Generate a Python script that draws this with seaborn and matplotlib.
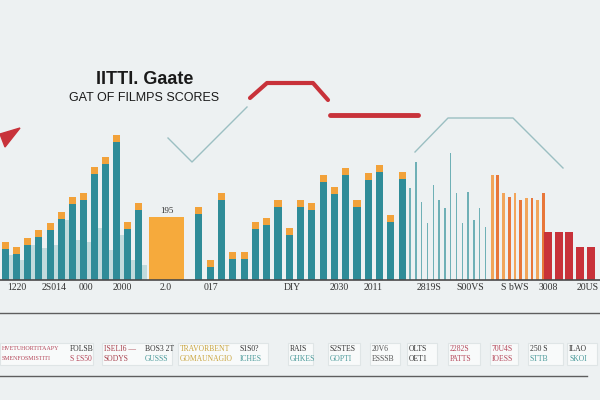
import matplotlib
matplotlib.use("Agg")
import matplotlib.pyplot as plt
import matplotlib.patches as mpatches
import numpy as np
import seaborn as sns

BG = "#edf1f2"
TEAL = "#2f8c98"
CAP = "#f2a23a"
BIG = "#f6aa3c"
RED = "#c8323a"
GHOST = "#bcdfe2"
THIN = "#6fb0b6"

# bar values (score units)
teal_left = [38, 33, 42, 50, 57, 68, 83, 87, 113, 123, 145, 58, 77]
ghost_left = [25, 20, 35, 32, 35, 60, 40, 38, 52, 30, 45, 20, 15]
big_value = 63
big_label = "195"
teal_right = [73, 20, 87, 28, 28, 58, 62, 80, 52, 80, 77, 105, 93, 112, 80, 107, 115, 65, 108]
thin_vals = [92, 118, 78, 57, 95, 80, 72, 127, 87, 57, 88, 60, 72, 53]
orange_vals = [105, 105, 87, 83, 87, 80, 82, 82, 80, 87]
orange_shade = ["a", "b", "a", "b", "a", "b", "a", "b", "a", "b"]
red_vals = [48, 48, 48, 33, 33]

tick_labels = ["1220", "2S014", "000", "2000", "2.0", "017", "DIY", "2030",
               "2011", "2819S", "S00VS", "S bWS", "3008", "20US"]
title = "IITTI. Gaate"
subtitle = "GAT OF FILMPS SCORES"

# legend-like boxes under the chart: (left text lines, colour), (right text lines, colour)
box_texts = [
    (["HVETUHORTITAAPY", "SMENFOSMISTITI"], "#b5475a", ["FOLSB", "S £S50"], "#b5475a"),
    (["ISELI6 —", "SODYS"], "#a8404c", ["BOS3 2T", "GUSSS"], "#4a9a9a"),
    (["TRAVORBENT", "GOMAUNAGIO"], "#c9a43c", ["S1S0?", "ICHES"], "#4a9a9a"),
    (["RAIS", "GHKES"], "#4a9a9a", [], None),
    (["S2STES", "GOPTI"], "#4a9a9a", [], None),
    (["20V6", "ESSSB"], "#555555", [], None),
    (["OLTS", "OET1"], "#333333", [], None),
    (["2282S", "PATTS"], "#b5475a", [], None),
    (["70U4S", "IOESS"], "#b5475a", [], None),
    (["250 S", "STTB"], "#4a9a9a", [], None),
    (["ILAO", "SKOI"], "#4a9a9a", [], None),
]

fig = plt.figure(figsize=(6, 4), dpi=100)
fig.patch.set_facecolor(BG)

ax = fig.add_axes([0, 0.3, 1, 0.5])
ax.set_facecolor("none")

cap_h = 7
left_x = np.arange(len(teal_left))
right_x = np.linspace(17.4, 35.7, len(teal_right))

# pale background bars
sns.barplot(x=left_x + 0.45, y=ghost_left, native_scale=True, width=0.6,
            color=GHOST, errorbar=None, ax=ax)

# teal bars with orange caps
for xs, vals in [(left_x, teal_left), (right_x, teal_right)]:
    vals = np.array(vals)
    sns.barplot(x=xs, y=vals, native_scale=True, width=0.63, color=CAP,
                saturation=1, errorbar=None, ax=ax)
    sns.barplot(x=xs, y=vals - cap_h, native_scale=True, width=0.63, color=TEAL,
                saturation=1, errorbar=None, ax=ax)

# the wide highlighted bar
sns.barplot(x=[14.5], y=[big_value], native_scale=True, width=3.2, color=BIG,
            saturation=1, errorbar=None, ax=ax)
ax.text(14.5, big_value + 2, big_label, ha="center", va="bottom", fontsize=6.5,
        family="Liberation Serif", color="#333333")

# thin lines
sns.barplot(x=np.linspace(36.4, 43.2, len(thin_vals)), y=thin_vals, native_scale=True,
            width=0.25, color=THIN, saturation=1, errorbar=None, ax=ax)

# orange strip
sns.barplot(x=np.linspace(43.8, 48.4, len(orange_vals)), y=orange_vals, hue=orange_shade,
            palette={"a": "#f2a55a", "b": "#e8773a"}, native_scale=True, width=0.5,
            dodge=False, saturation=1, errorbar=None, legend=False, ax=ax)

# red bars
sns.barplot(x=np.linspace(48.8, 52.7, len(red_vals)), y=red_vals, native_scale=True,
            width=0.74, color=RED, saturation=1, errorbar=None, ax=ax)

ax.axhline(0, color="#4a4a4a", lw=1.2, clip_on=False)
ax.set_xlim(-0.5, 53.5)
ax.set_ylim(0, 200)
ax.axis("off")

label_slots = [1.0, 4.4, 7.2, 10.5, 14.4, 18.5, 25.8, 30, 33.1, 38.1, 41.8, 45.8, 48.8, 52.4]
for pos, lab in zip(label_slots, tick_labels):
    ax.text(pos, -8, lab, ha="center", va="center", fontsize=7,
            family="Liberation Serif", color="#333333", clip_on=False)

# overlay in pixel space for decorations
deco = fig.add_axes([0, 0, 1, 1])
deco.set_xlim(0, 600)
deco.set_ylim(400, 0)
deco.axis("off")
deco.set_facecolor("none")

deco.text(145, 80, title, ha="center", va="center", fontsize=13, fontweight="bold",
          family="Liberation Sans", color="#1a1a1a")
deco.text(144, 98, subtitle, ha="center", va="center", fontsize=9,
          family="Liberation Sans", color="#1a1a1a")

deco.plot([250, 267, 313, 328], [98, 83, 83, 100], color=RED, lw=3, solid_capstyle="round")
deco.plot([330, 418], [115, 115], color=RED, lw=3.5, solid_capstyle="round")
deco.add_patch(mpatches.Polygon([(0, 134), (20, 128), (5, 147)], closed=True, color=RED))
deco.plot([168, 192, 247], [138, 162, 107], color="#9bbfc2", lw=1)
deco.plot([415, 448, 513, 563], [152, 118, 118, 168], color="#9bbfc2", lw=1)

deco.plot([0, 600], [313, 313], color="#5e5e5e", lw=1)
deco.plot([0, 587], [376, 376], color="#5e5e5e", lw=1)

box_spans = [(0, 93), (102, 172), (178, 268), (288, 313), (328, 360), (370, 400),
             (407, 437), (448, 480), (490, 518), (528, 563), (567, 597)]
right_offsets = [70, 43, 62, 0, 0, 0, 0, 0, 0, 0, 0]
left_sizes = [4.3, 5.5, 5.5, 5.5, 5.5, 5.5, 5.5, 5.5, 5.5, 5.5, 5.5]
for (x0, x1), (ltxt, lcol, rtxt, rcol), roff, fs in zip(box_spans, box_texts,
                                                         right_offsets, left_sizes):
    deco.add_patch(mpatches.Rectangle((x0, 343), x1 - x0, 22, facecolor="#f8fafa",
                                      edgecolor="#dfe5e6", lw=0.8))
    for i, t in enumerate(ltxt):
        first_col = lcol if lcol != "#4a9a9a" else "#333333"
        deco.text(x0 + 2, 349 + i * 10, t, ha="left", va="center", fontsize=fs,
                  family="Liberation Serif", color=lcol if i else first_col)
    for i, t in enumerate(rtxt):
        deco.text(x0 + roff, 349 + i * 10, t, ha="left", va="center", fontsize=5.5,
                  family="Liberation Serif", color=rcol if i else "#333333")

fig.savefig("out.png", dpi=100, facecolor=BG)
